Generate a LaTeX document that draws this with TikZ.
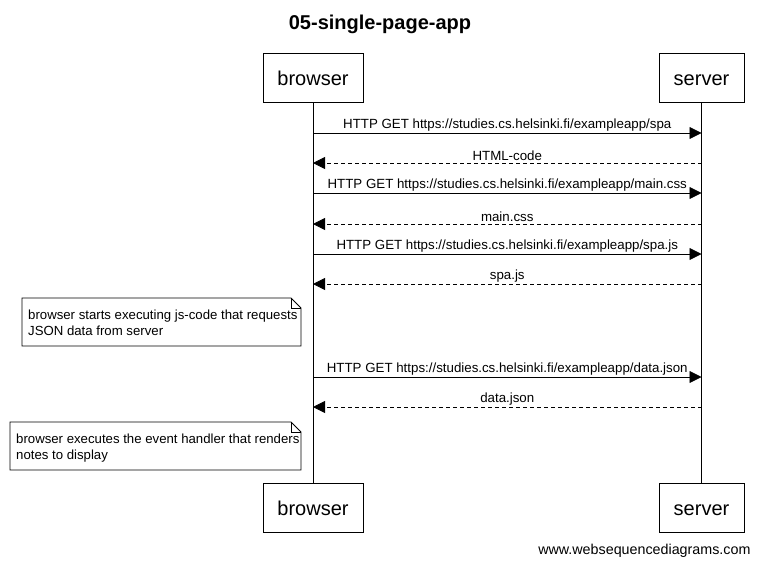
\documentclass[tikz,border=0pt]{standalone}
\usepackage{fontspec}
\setmainfont{Liberation Sans}
\usetikzlibrary{arrows.meta}
\tikzset{
  actor/.style={draw, thick, minimum width=100pt, minimum height=49pt, inner sep=0pt, text height=15.5pt, text depth=0pt, font=\fontsize{20}{24}\selectfont},
  msg/.style={thick, -{Triangle[length=12pt, width=12pt]}},
  reply/.style={msg, dash pattern=on 4pt off 3pt},
  msglabel/.style={midway, above, inner sep=1.5pt, font=\fontsize{13.3}{16}\selectfont},
  notebox/.style={draw, thick, fill=white},
  notetext/.style={anchor=north west, align=left, inner sep=0pt, font=\fontsize{13.2}{16}\selectfont}
}
\begin{document}
\begin{tikzpicture}[x=1pt, y=-1pt]
  \useasboundingbox (0,0) rectangle (759,566);
  % title
  \node[font=\bfseries\fontsize{20}{24}\selectfont] (title) at (380,24) {05-single-page-app};
  % participants
  \node[actor] (bt) at (313,77.5) {browser};
  \node[actor, minimum width=85pt] (st) at (701.5,77.5) {server};
  \node[actor] (bb) at (313,507.5) {browser};
  \node[actor, minimum width=85pt] (sb) at (701.5,507.5) {server};
  \draw[thick] (bt.south) -- (bb.north);
  \draw[thick] (st.south) -- (sb.north);
  % points on the lifelines
  \foreach \y [count=\i] in {133,163,193,224,254,284,377,407} {
    \coordinate (b\i) at (313,\y);
    \coordinate (s\i) at (701.5,\y);
  }
  % messages
  \draw[msg]   (b1) -- (s1) node[msglabel] {HTTP GET https://studies.cs.helsinki.fi/exampleapp/spa};
  \draw[reply] (s2) -- (b2) node[msglabel] {HTML-code};
  \draw[msg]   (b3) -- (s3) node[msglabel] {HTTP GET https://studies.cs.helsinki.fi/exampleapp/main.css};
  \draw[reply] (s4) -- (b4) node[msglabel] {main.css};
  \draw[msg]   (b5) -- (s5) node[msglabel] {HTTP GET https://studies.cs.helsinki.fi/exampleapp/spa.js};
  \draw[reply] (s6) -- (b6) node[msglabel] {spa.js};
  \draw[msg]   (b7) -- (s7) node[msglabel] {HTTP GET https://studies.cs.helsinki.fi/exampleapp/data.json};
  \draw[reply] (s8) -- (b8) node[msglabel] {data.json};
  % notes
  \path[notebox] (22,298) -- (291,298) -- (301,308) -- (301,346) -- (22,346) -- cycle;
  \draw[thick] (291,298) -- (291,308) -- (301,308);
  \node[notetext] (note1) at (28,310) {browser starts executing js-code that requests\\JSON data from server};
  \path[notebox] (10,422) -- (291,422) -- (301,432) -- (301,470) -- (10,470) -- cycle;
  \draw[thick] (291,422) -- (291,432) -- (301,432);
  \node[notetext] (note2) at (16,434) {browser executes the event handler that renders\\notes to display};
  % watermark
  \node[anchor=east, font=\fontsize{14.3}{16}\selectfont] (wsd) at (754,551) {www.websequencediagrams.com};
\end{tikzpicture}
\end{document}
